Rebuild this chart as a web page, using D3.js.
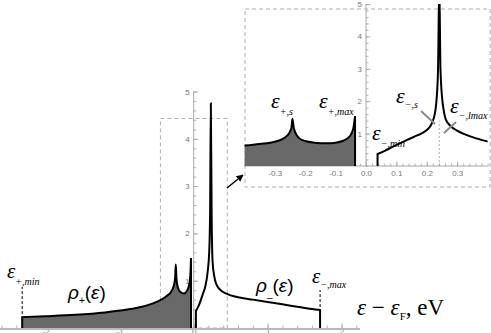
<!DOCTYPE html>
<html>
<head>
<meta charset="utf-8">
<script src="https://cdn.jsdelivr.net/npm/d3@7"></script>
<style>
  body { margin: 0; background: #fff; }
  svg { display: block; }
</style>
</head>
<body>
<svg id="chart" width="491" height="333"></svg>
<script>
// density of states rho(e), e - eF in eV
// main plot values
const mainPlus = [
  [-2.32, 0.23], [-2.0, 0.25], [-1.6, 0.28], [-1.2, 0.33], [-0.9, 0.39], [-0.7, 0.45],
  [-0.55, 0.52], [-0.45, 0.59], [-0.36, 0.68], [-0.3, 0.78], [-0.265, 0.92], [-0.25, 1.08],
  [-0.242, 1.34], [-0.233, 1.05], [-0.215, 0.86], [-0.18, 0.76], [-0.13, 0.73], [-0.09, 0.79],
  [-0.06, 0.92], [-0.045, 1.12], [-0.036, 1.48]
];
const mainMinus = [
  [0.03, 0.36], [0.07, 0.48], [0.12, 0.7], [0.16, 0.9], [0.19, 1.2], [0.21, 1.6], [0.222, 2.4],
  [0.232, 4.75], [0.243, 2.4], [0.256, 1.4], [0.28, 1.08], [0.3, 0.95], [0.35, 0.82],
  [0.45, 0.72], [0.6, 0.65], [0.8, 0.6], [1.0, 0.55], [1.2, 0.5], [1.4, 0.45], [1.6, 0.4], [1.71, 0.38]
];
// inset (zoom on -0.4..0.4)
const insetPlus = [
  [-0.4, 0.63], [-0.35, 0.68], [-0.3, 0.75], [-0.275, 0.83], [-0.26, 0.93], [-0.25, 1.06],
  [-0.245, 1.2], [-0.242, 1.46], [-0.238, 1.2], [-0.232, 1.02], [-0.22, 0.86], [-0.2, 0.77],
  [-0.17, 0.72], [-0.13, 0.7], [-0.1, 0.72], [-0.075, 0.78], [-0.06, 0.86], [-0.048, 1.0],
  [-0.041, 1.2], [-0.036, 1.54]
];
const insetMinus = [
  [0.038, 0.37], [0.06, 0.46], [0.089, 0.6], [0.134, 0.8], [0.17, 0.95], [0.2, 1.11],
  [0.213, 1.25], [0.221, 1.42], [0.228, 1.7], [0.232, 2.04], [0.237, 3.0], [0.241, 5.6],
  [0.245, 3.0], [0.251, 2.04], [0.256, 1.7], [0.263, 1.42], [0.28, 1.22], [0.298, 1.1],
  [0.33, 0.96], [0.36, 0.86], [0.385, 0.79], [0.41, 0.74]
];
const zoomBox = [-0.45, 0.455, 4.43];   // region shown in the inset
const peakMinus = 0.241;                 // e_{-,s}

const mainXTicks = [-2, -1, 0, 1, 2];
const mainYTicks = [1, 2, 3, 4, 5];
const insetXTicks = [-0.3, -0.2, -0.1, 0, 0.1, 0.2, 0.3];
const insetXLabels = ['-0.3', '-0.2', '-0.1', '0.0', '0.1', '0.2', '0.3'];
const insetYTicks = [1, 2, 3, 4, 5];

const svg = d3.select('#chart');
const serif = "'Liberation Serif', 'Times New Roman', serif";
const sans = "'Liberation Sans', Arial, sans-serif";

svg.append('defs').append('marker')
  .attr('id', 'arr').attr('viewBox', '0 0 10 10')
  .attr('refX', 9).attr('refY', 5)
  .attr('markerWidth', 7).attr('markerHeight', 7)
  .attr('markerUnits', 'userSpaceOnUse')
  .attr('orient', 'auto')
  .append('path').attr('d', 'M0,0L10,5L0,10z').attr('fill', '#000');

// outline: curve plus optional vertical drops to zero
function outline(data, x, y, dropStart, dropEnd) {
  const s = d3.line().x(d => x(d[0])).y(d => y(d[1])).curve(d3.curveMonotoneX)(data);
  let p = s;
  if (dropStart) p = `M${x(data[0][0])},${y(0)}L` + s.slice(1);
  if (dropEnd) p += `L${x(data[data.length - 1][0])},${y(0)}`;
  return p;
}

// ticks inside the frame, mathematica style
function axisTicks(g, axis, scale, major, labels, minorCount, fontSize) {
  g.append('g')
    .call(axis(scale).tickValues(scale.ticks(minorCount)).tickSize(-2.5).tickFormat(''));
  g.append('g')
    .call(axis(scale).tickValues(major).tickSize(-4.5).tickPadding(4)
      .tickFormat((d, i) => labels ? labels[i] : d));
  g.selectAll('.domain').remove();
  g.selectAll('line').attr('stroke', '#a0a0a0').attr('stroke-width', 0.8);
  g.selectAll('text').attr('fill', '#777').attr('font-size', fontSize).attr('font-family', sans);
}

function sym(g, x, y, main, sub, size, subSize, subDy) {
  const t = g.append('text').attr('x', x).attr('y', y)
    .attr('font-family', serif).attr('font-style', 'italic').attr('font-size', size);
  t.append('tspan').text(main);
  t.append('tspan').attr('dy', subDy).attr('font-size', subSize).text(sub);
  return t;
}

// ---------------- main plot ----------------
const xMain = d3.scaleLinear().domain([-2.62, 2.25]).range([0, 360]);
const yMain = d3.scaleLinear().domain([0, 5]).range([328, 91.5]);
const main = svg.append('g');

// zoom region
main.append('rect')
  .attr('x', xMain(zoomBox[0])).attr('y', yMain(zoomBox[2]))
  .attr('width', xMain(zoomBox[1]) - xMain(zoomBox[0]))
  .attr('height', yMain(0) - yMain(zoomBox[2]))
  .attr('fill', 'none').attr('stroke', '#b0b0b0').attr('stroke-dasharray', '4,3');

const gxm = main.append('g').attr('transform', `translate(0,${yMain(0)})`);
axisTicks(gxm, d3.axisBottom, xMain, mainXTicks, null, 25, '8px');
gxm.selectAll('text').attr('dy', '0.2em');
const gym = main.append('g').attr('transform', `translate(${xMain(0)},0)`);
axisTicks(gym, d3.axisLeft, yMain, mainYTicks, null, 25, '8px');

main.append('line')
  .attr('x1', xMain(0)).attr('x2', xMain(0)).attr('y1', yMain(0)).attr('y2', yMain(5))
  .attr('stroke', '#a8a8a8').attr('stroke-width', 1);

main.append('path')
  .attr('d', d3.area().x(d => xMain(d[0])).y0(yMain(0)).y1(d => yMain(d[1])).curve(d3.curveMonotoneX)(mainPlus))
  .attr('fill', '#696969');
main.append('path').attr('d', outline(mainPlus, xMain, yMain, true, true))
  .attr('fill', 'none').attr('stroke', '#000').attr('stroke-width', 2);
main.append('path').attr('d', outline(mainMinus, xMain, yMain, true, true))
  .attr('fill', 'none').attr('stroke', '#000').attr('stroke-width', 2);

main.append('line')
  .attr('x1', 0).attr('x2', 360).attr('y1', yMain(0) + 1).attr('y2', yMain(0) + 1)
  .attr('stroke', '#b8b8b8').attr('stroke-width', 2);

// band edge markers
const e0 = mainPlus[0], e1 = mainMinus[mainMinus.length - 1];
main.append('line')
  .attr('x1', xMain(e0[0])).attr('x2', xMain(e0[0]))
  .attr('y1', yMain(e0[1]) - 3).attr('y2', 287)
  .attr('stroke', '#000').attr('stroke-dasharray', '3,2');
main.append('line')
  .attr('x1', xMain(e1[0])).attr('x2', xMain(e1[0]))
  .attr('y1', yMain(e1[1]) - 3).attr('y2', 290)
  .attr('stroke', '#000').attr('stroke-dasharray', '3,2');

sym(main, 7, 278, 'ε', '+,min', '21px', '10px', 7);
sym(main, 312, 283, 'ε', '−,max', '21px', '10px', 5);

function rho(g, x, y, sub) {
  const t = g.append('text').attr('x', x).attr('y', y)
    .attr('font-family', sans).attr('font-size', '19px');
  t.append('tspan').attr('font-style', 'italic').text('ρ');
  t.append('tspan').attr('dy', 5).attr('font-size', '10px').text(sub);
  t.append('tspan').attr('dy', -5).text('(');
  t.append('tspan').attr('font-style', 'italic').text('ε');
  t.append('tspan').text(')');
}
rho(main, 68, 299, '+');
rho(main, 256, 292, '_');

// axis name
const an = main.append('text').attr('x', 357).attr('y', 315)
  .attr('font-family', serif).attr('font-size', '23px');
an.append('tspan').attr('font-style', 'italic').text('ε');
an.append('tspan').text(' − ');
an.append('tspan').attr('font-style', 'italic').text('ε');
an.append('tspan').attr('dy', 5).attr('font-size', '11px').text('F');
an.append('tspan').attr('dy', -5).text(', eV');

// arrow to inset
main.append('line')
  .attr('x1', 227).attr('y1', 188).attr('x2', 243).attr('y2', 175)
  .attr('stroke', '#000').attr('stroke-width', 1.5).attr('marker-end', 'url(#arr)');

// ---------------- inset ----------------
const xIn = d3.scaleLinear().domain([-0.4, 0.4]).range([244.4, 487.6]);
const yIn = d3.scaleLinear().domain([0, 5]).range([166, 4]);
const inset = svg.append('g');

inset.append('rect').attr('x', 245).attr('y', 9).attr('width', 245).attr('height', 178)
  .attr('fill', 'none').attr('stroke', '#b0b0b0').attr('stroke-dasharray', '4,3');

inset.append('clipPath').attr('id', 'clipIn').append('rect')
  .attr('x', xIn(-0.4)).attr('y', yIn(5)).attr('width', xIn(0.4) - xIn(-0.4)).attr('height', yIn(0) - yIn(5));

const gxi = inset.append('g').attr('transform', `translate(0,${yIn(0)})`);
axisTicks(gxi, d3.axisBottom, xIn, insetXTicks, insetXLabels, 40, '8px');
const gyi = inset.append('g').attr('transform', `translate(${xIn(0)},0)`);
axisTicks(gyi, d3.axisLeft, yIn, insetYTicks, null, 25, '8px');
inset.append('line')
  .attr('x1', xIn(-0.4)).attr('x2', xIn(0.4)).attr('y1', yIn(0)).attr('y2', yIn(0))
  .attr('stroke', '#a8a8a8');
inset.append('line')
  .attr('x1', xIn(0)).attr('x2', xIn(0)).attr('y1', yIn(0)).attr('y2', yIn(5))
  .attr('stroke', '#a8a8a8');

// e_{-,s} position
inset.append('line')
  .attr('x1', xIn(peakMinus)).attr('x2', xIn(peakMinus)).attr('y1', yIn(0)).attr('y2', yIn(1.4))
  .attr('stroke', '#a0a0a0').attr('stroke-width', 0.8).attr('stroke-dasharray', '2,2');

const curves = inset.append('g').attr('clip-path', 'url(#clipIn)');
curves.append('path')
  .attr('d', d3.area().x(d => xIn(d[0])).y0(yIn(0)).y1(d => yIn(d[1])).curve(d3.curveMonotoneX)(insetPlus))
  .attr('fill', '#696969');
curves.append('path').attr('d', outline(insetPlus, xIn, yIn, false, true))
  .attr('fill', 'none').attr('stroke', '#000').attr('stroke-width', 2);
curves.append('path').attr('d', outline(insetMinus, xIn, yIn, true, false))
  .attr('fill', 'none').attr('stroke', '#000').attr('stroke-width', 2);

sym(inset, 271, 108, 'ε', '+,s', '22px', '10px', 7);
sym(inset, 319, 108, 'ε', '+,max', '22px', '10px', 7);
sym(inset, 396, 103, 'ε', '−,s', '22px', '10px', 5);
sym(inset, 450, 113, 'ε', '−,lmax', '22px', '10px', 6);
sym(inset, 372, 140, 'ε', '−,min', '22px', '10px', 7);

// pointers
inset.append('line').attr('x1', 421).attr('y1', 111).attr('x2', 435).attr('y2', 124)
  .attr('stroke', '#8a8a8a').attr('stroke-width', 2);
inset.append('line').attr('x1', 456).attr('y1', 122).attr('x2', 444).attr('y2', 133)
  .attr('stroke', '#8a8a8a').attr('stroke-width', 2);
</script>
</body>
</html>
